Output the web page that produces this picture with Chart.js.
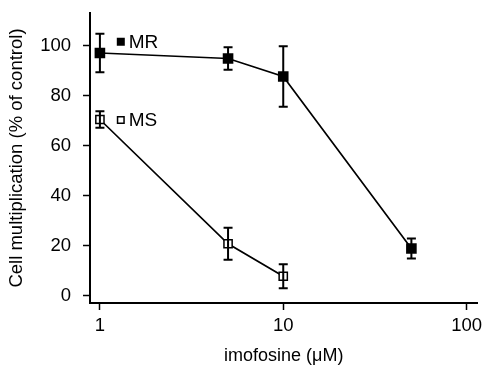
<!DOCTYPE html>
<html>
<head>
<meta charset="utf-8">
<script src="https://cdn.jsdelivr.net/npm/chart.js@4/dist/chart.umd.min.js"></script>
<style>
  html, body { margin: 0; padding: 0; background: #fff; }
  #wrap { width: 485px; height: 370px; }
</style>
</head>
<body>
<div id="wrap"><canvas id="c" width="485" height="370"></canvas></div>
<script>
// Data
const concentrations = [1, 5, 10, 50];           // imofosine (µM)
const mrValues = [97, 94.8, 87.6, 18.8];          // MR, % of control
const mrErrors = [7.7, 4.5, 12.1, 4.0];
const msConcentrations = [1, 5, 10];
const msValues = [70.4, 20.7, 7.7];               // MS, % of control
const msErrors = [3.3, 6.4, 4.8];
const yTickValues = [0, 20, 40, 60, 80, 100];
const xTickValues = [1, 10, 100];
const seriesNames = ['MR', 'MS'];

const FONT = 'Liberation Sans, Arial, Helvetica, sans-serif';

const errorBars = {
  id: 'errorBars',
  afterDatasetsDraw(chart) {
    const ctx = chart.ctx;
    const y = chart.scales.y;
    ctx.save();
    ctx.strokeStyle = '#000';
    ctx.lineWidth = 2;
    chart.data.datasets.forEach((ds, i) => {
      const meta = chart.getDatasetMeta(i);
      meta.data.forEach((pt, j) => {
        const e = ds.errors[j];
        const v = ds.data[j].y;
        const top = y.getPixelForValue(v + e);
        const bot = y.getPixelForValue(v - e);
        const cx = pt.x, hw = 4.5;
        ctx.beginPath();
        ctx.moveTo(cx, top); ctx.lineTo(cx, bot);
        ctx.moveTo(cx - hw, top); ctx.lineTo(cx + hw, top);
        ctx.moveTo(cx - hw, bot); ctx.lineTo(cx + hw, bot);
        ctx.stroke();
      });
    });
    ctx.restore();
  }
};

const labelsPlugin = {
  id: 'seriesLabels',
  afterDraw(chart) {
    const ctx = chart.ctx;
    const xs = chart.scales.x, ys = chart.scales.y;
    const px = xs.getPixelForValue(1.3);
    const rows = [
      { name: seriesNames[0], yv: mrValues[0] + 4.5, filled: true },
      { name: seriesNames[1], yv: msValues[0] - 0.2, filled: false }
    ];
    ctx.save();
    ctx.font = '19px ' + FONT;
    ctx.textBaseline = 'middle';
    ctx.textAlign = 'left';
    ctx.fillStyle = '#000';
    rows.forEach(r => {
      const py = ys.getPixelForValue(r.yv);
      if (r.filled) {
        ctx.fillRect(px - 4, py - 4, 8, 8);
      } else {
        ctx.lineWidth = 1.5;
        ctx.strokeRect(px - 3.25, py - 3.25, 6.5, 6.5);
      }
      ctx.fillText(r.name, px + 8, py + 1);
    });
    ctx.restore();
  }
};

new Chart(document.getElementById('c'), {
  type: 'line',
  data: {
    datasets: [
      {
        label: seriesNames[0],
        data: concentrations.map((x, i) => ({ x, y: mrValues[i] })),
        errors: mrErrors,
        borderColor: '#000',
        borderWidth: 1.7,
        pointStyle: 'rect',
        pointRadius: 7.5,
        pointBackgroundColor: '#000',
        pointBorderColor: '#000',
        pointBorderWidth: 0,
        tension: 0
      },
      {
        label: seriesNames[1],
        data: msConcentrations.map((x, i) => ({ x, y: msValues[i] })),
        errors: msErrors,
        borderColor: '#000',
        borderWidth: 1.7,
        pointStyle: 'rect',
        pointRadius: 5.8,
        pointBackgroundColor: '#fff',
        pointBorderColor: '#000',
        pointBorderWidth: 1.5,
        tension: 0
      }
    ]
  },
  options: {
    responsive: false,
    animation: false,
    events: [],
    layout: { padding: { top: 13, right: 5, left: 0, bottom: 0 } },
    plugins: { legend: { display: false }, tooltip: { enabled: false } },
    scales: {
      x: {
        type: 'logarithmic',
        min: 0.883,
        max: 114.7,
        afterBuildTicks(s) { s.ticks = xTickValues.map(v => ({ value: v })); },
        afterFit(s) { s.height = 67; s.paddingLeft = 0; s.paddingRight = 0; },
        grid: { display: true, drawOnChartArea: false, drawTicks: true, tickLength: 7, tickWidth: 1.5, tickColor: '#000' },
        border: { display: true, color: '#000', width: 2 },
        ticks: {
          color: '#000', font: { family: FONT, size: 18.5 }, padding: 5,
          maxRotation: 0, autoSkip: false,
          callback: (v) => String(v)
        },
        title: { display: true, text: 'imofosine (μM)', color: '#000', font: { family: FONT, size: 18 }, padding: { top: 0, bottom: 3 } }
      },
      y: {
        type: 'linear',
        min: -3,
        max: 113,
        afterBuildTicks(s) { s.ticks = yTickValues.map(v => ({ value: v })); },
        afterFit(s) { s.width = 90; s.paddingTop = 0; s.paddingBottom = 0; },
        grid: { display: true, drawOnChartArea: false, drawTicks: true, tickLength: 7, tickWidth: 1.5, tickColor: '#000' },
        border: { display: true, color: '#000', width: 2 },
        ticks: { color: '#000', font: { family: FONT, size: 18.5 }, padding: 12 },
        title: { display: true, text: 'Cell multiplication (% of control)', color: '#000', font: { family: FONT, size: 18.5 }, padding: { top: 6, bottom: 0 } }
      }
    }
  },
  plugins: [errorBars, labelsPlugin]
});
</script>
</body>
</html>
